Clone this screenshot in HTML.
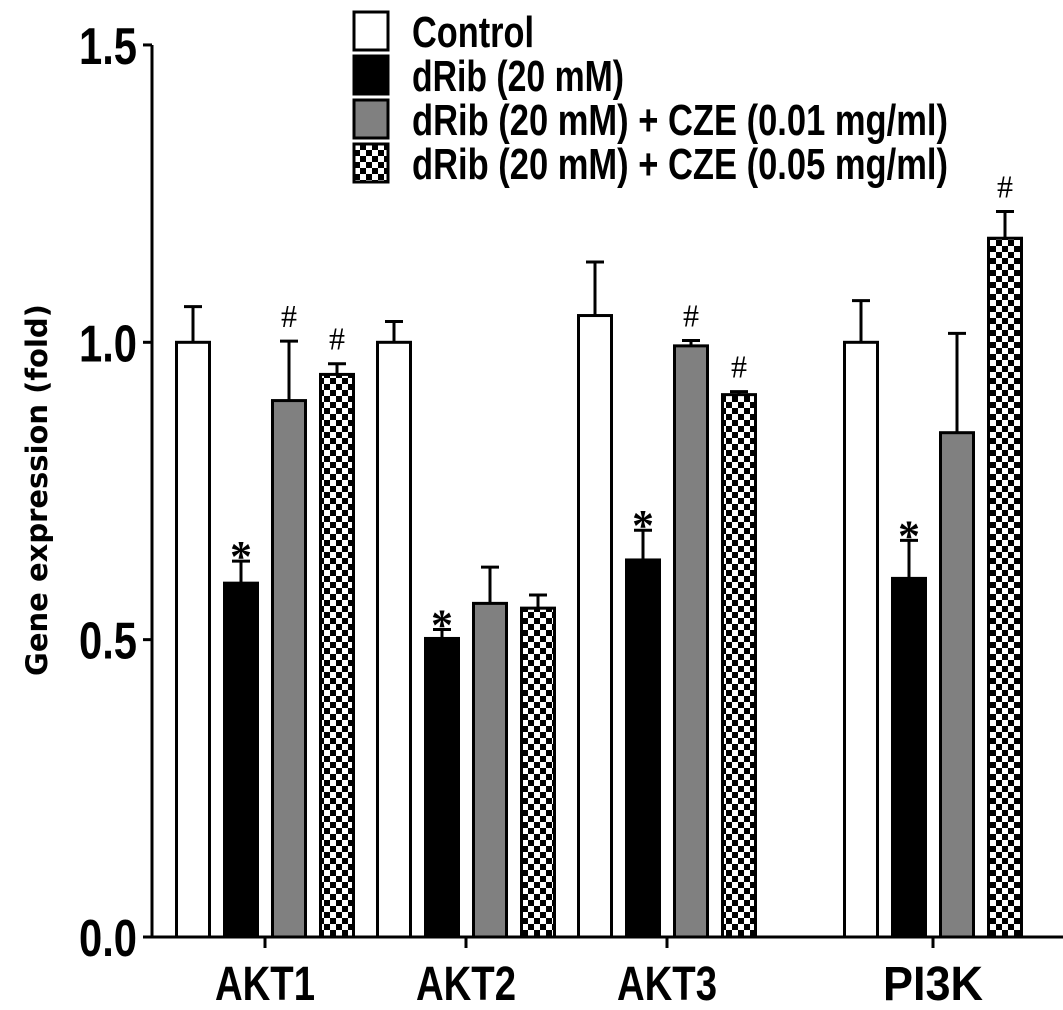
<!DOCTYPE html>
<html><head><meta charset="utf-8"><style>
html,body{margin:0;padding:0;background:#fff;}
svg{display:block;font-family:"Liberation Sans",sans-serif;}
</style></head><body>
<svg id="chart" width="1063" height="1010" viewBox="0 0 1063 1010">
<defs>
<pattern id="checker" width="12" height="12" patternUnits="userSpaceOnUse">
<rect width="12" height="12" fill="#fff"/>
<rect width="6" height="6" fill="#000"/>
<rect x="6" y="6" width="6" height="6" fill="#000"/>
</pattern>
</defs>
<g id="legend"></g>
<g id="bars"></g>
<g id="axes"></g>
<text transform="translate(47,490) rotate(-90)" text-anchor="middle" font-size="29" font-weight="bold" font-family="DejaVu Sans, sans-serif">Gene expression (fold)</text>
</svg>
<script>
const categories = ["AKT1","AKT2","AKT3","PI3K"];
const seriesNames = ["Control","dRib (20 mM)","dRib (20 mM) + CZE (0.01 mg/ml)","dRib (20 mM) + CZE (0.05 mg/ml)"];
const control = [1.0, 1.0, 1.045, 1.0];
const controlErr = [0.06, 0.035, 0.09, 0.07];
const dRib = [0.595, 0.502, 0.634, 0.603];
const dRibErr = [0.037, 0.015, 0.05, 0.064];
const cze001 = [0.902, 0.561, 0.994, 0.848];
const cze001Err = [0.1, 0.061, 0.009, 0.167];
const cze005 = [0.946, 0.553, 0.912, 1.175];
const cze005Err = [0.018, 0.022, 0.005, 0.045];
const marks = [["", "*", "#", "#"], ["", "*", "", ""], ["", "*", "#", "#"], ["", "*", "", "#"]];
const yTicks = [0.0, 0.5, 1.0, 1.5];
const yTickLabels = ["0.0", "0.5", "1.0", "1.5"];

const NS = "http://www.w3.org/2000/svg";
const y0 = 937, yPer = 594.7;
const y = v => y0 - v * yPer;
const groupCenter = [265, 466, 667, 933];
const offsets = [-72, -24, 24, 72];
const bw = 33;
const fills = ["#fff", "#000", "#808080", "url(#checker)"];
const series = [control, dRib, cze001, cze005];
const errs = [controlErr, dRibErr, cze001Err, cze005Err];

function mk(tag, attrs, parent) {
  const e = document.createElementNS(NS, tag);
  for (const k in attrs) e.setAttribute(k, attrs[k]);
  parent.appendChild(e);
  return e;
}
const bars = document.getElementById("bars");
categories.forEach((c, i) => {
  series.forEach((s, j) => {
    const cx = groupCenter[i] + offsets[j];
    const top = y(s[i]), et = y(s[i] + errs[j][i]);
    const l = mk("line", {x1: cx, x2: cx, y1: top, y2: et, stroke: "#000", "stroke-width": 3}, bars);
    
    
    const cap = mk("line", {x1: cx - 9, x2: cx + 9, y1: et, y2: et, stroke: "#000", "stroke-width": 3}, bars);
    
    
    const r = mk("rect", {x: cx - bw / 2, y: top, width: bw, height: y0 - top, fill: fills[j], stroke: "#000", "stroke-width": 3}, bars);
    
    
    const m = marks[i][j];
    if (m) {
      const t = mk("text", {x: cx, y: et - (m === "*" ? -10 : 14), "text-anchor": "middle", "font-size": m === "*" ? 44 : 32, "font-family": "Liberation Serif, serif", "font-weight": m === "*" ? "bold" : "normal"}, bars);
      t.textContent = m;
      
      
    }
  });
});

const axes = document.getElementById("axes");
const ya = mk("line", {x1: 152, x2: 152, y1: y(1.5), y2: y0, stroke: "#000", "stroke-width": 3}, axes);


const xa = mk("line", {x1: 145, x2: 1063, y1: y0, y2: y0, stroke: "#000", "stroke-width": 3}, axes);


yTicks.forEach((v, i) => {
  const t = mk("line", {x1: 143, x2: 152, y1: y(v), y2: y(v), stroke: "#000", "stroke-width": 3}, axes);
  
  
  const lb = mk("text", {x: 137, y: y(v) + 19, "text-anchor": "end", "font-size": 52, "font-weight": "bold", textLength: 58, lengthAdjust: "spacingAndGlyphs"}, axes);
  lb.textContent = yTickLabels[i];
  
  
});
categories.forEach((c, i) => {
  const t = mk("line", {x1: groupCenter[i], x2: groupCenter[i], y1: y0, y2: y0 + 11, stroke: "#000", "stroke-width": 3}, axes);
  
  
  const lb = mk("text", {x: groupCenter[i], y: 1000, "text-anchor": "middle", "font-size": 48, "font-weight": "bold", textLength: c.length * 25, lengthAdjust: "spacingAndGlyphs"}, axes);
  lb.textContent = c;
  
  
});

const legend = document.getElementById("legend");
const lw = [122, 212, 536, 536];
seriesNames.forEach((n, j) => {
  const ty = 12 + j * 44;
  const r = mk("rect", {x: 354, y: ty, width: 34, height: 38, fill: fills[j], stroke: "#000", "stroke-width": 3}, legend);
  
  
  const t = mk("text", {x: 412, y: ty + 35, "font-size": 44, "font-weight": "bold", textLength: lw[j], lengthAdjust: "spacingAndGlyphs"}, legend);
  t.textContent = n;
  
  
});
</script>
</body></html>
